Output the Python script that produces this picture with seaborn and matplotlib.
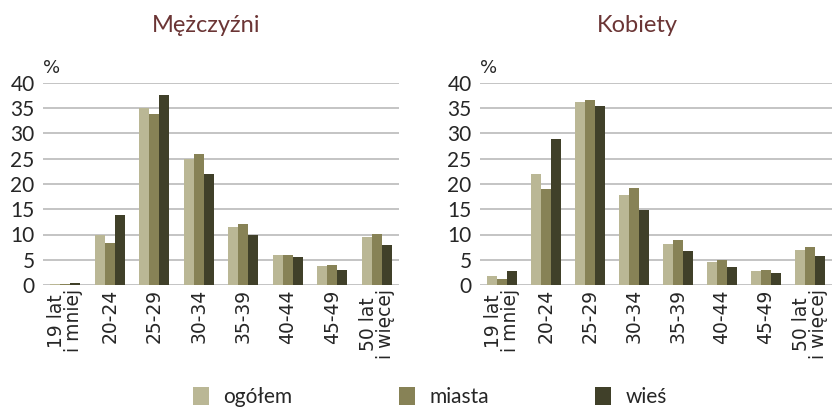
import matplotlib
matplotlib.use("Agg")
import matplotlib.pyplot as plt
import seaborn as sns
import pandas as pd
from matplotlib.patches import Patch

categories = ["19 lat\ni mniej", "20-24", "25-29", "30-34", "35-39", "40-44", "45-49", "50 lat\ni więcej"]
series = ["ogółem", "miasta", "wieś"]

men_ogolem = [0.2, 10.0, 35.0, 24.9, 11.5, 6.0, 3.8, 9.5]
men_miasta = [0.2, 8.3, 33.9, 26.0, 12.1, 6.0, 4.0, 10.1]
men_wies = [0.4, 13.9, 37.7, 22.0, 10.0, 5.6, 3.0, 7.9]

women_ogolem = [1.8, 22.0, 36.3, 17.9, 8.1, 4.6, 2.8, 6.9]
women_miasta = [1.2, 19.0, 36.7, 19.2, 8.9, 5.0, 3.0, 7.5]
women_wies = [2.8, 29.0, 35.5, 14.9, 6.7, 3.6, 2.4, 5.8]

titles = ["Mężczyźni", "Kobiety"]
yticks = [0, 5, 10, 15, 20, 25, 30, 35, 40]

colors = ["#BAB795", "#878256", "#404029"]


def make_df(a, b, c):
    rows = []
    for s, vals in zip(series, [a, b, c]):
        for cat, v in zip(categories, vals):
            rows.append({"kat": cat, "seria": s, "val": v})
    return pd.DataFrame(rows)


df_men = make_df(men_ogolem, men_miasta, men_wies)
df_women = make_df(women_ogolem, women_miasta, women_wies)

sns.set_theme(style="white")
plt.rcParams["font.family"] = ["DejaVu Sans"]

fig = plt.figure(figsize=(8.32, 4.08), dpi=100)
ax1 = fig.add_axes([43 / 832, 1 - 285 / 408, (399 - 43) / 832, (285 - 83) / 408])
ax2 = fig.add_axes([480 / 832, 1 - 285 / 408, (832 - 480) / 832, (285 - 83) / 408])

text_col = "#262626"
title_col = "#6B3535"

for ax, df in [(ax1, df_men), (ax2, df_women)]:
    sns.barplot(data=df, x="kat", y="val", hue="seria", hue_order=series,
                order=categories, palette=colors, width=0.67, saturation=1,
                ax=ax, legend=False, linewidth=0)
    ax.set_ylim(0, 40)
    ax.set_xlim(-0.5, 7.5)
    ax.set_yticks(yticks)
    ax.set_yticklabels([str(t) for t in yticks], fontsize=15, color=text_col,
                       family=["Lato", "DejaVu Sans"])
    ax.set_xticks(range(len(categories)))
    ax.set_xticklabels(categories, rotation=90, fontsize=13.5, color=text_col,
                       linespacing=0.85, va="top", ha="center")
    ax.set_xlabel("")
    ax.set_ylabel("")
    for sp in ax.spines.values():
        sp.set_visible(False)
    ax.yaxis.grid(True, color="#C4C4C4", linewidth=1.4)
    ax.set_axisbelow(True)
    ax.tick_params(axis="both", length=0, pad=3)
    ax.tick_params(axis="y", pad=6)

ax1.text(-0.5, 41.2, "%", fontsize=13, color=text_col, ha="left", va="bottom")
ax2.text(-0.5, 41.2, "%", fontsize=13, color=text_col, ha="left", va="bottom")

fig.text(206 / 832, 1 - 26 / 408, titles[0], fontsize=17, color=title_col,
         ha="center", va="center", family=["Lato", "DejaVu Sans"])
fig.text(637 / 832, 1 - 26 / 408, titles[1], fontsize=17, color=title_col,
         ha="center", va="center", family=["Lato", "DejaVu Sans"])

handles = [Patch(facecolor=c, edgecolor="none", label=s) for c, s in zip(colors, series)]
fig.legend(handles=handles, loc="center", bbox_to_anchor=(430 / 832, 1 - 397 / 408),
           ncol=3, frameon=False, handlelength=0.75, handleheight=0.95,
           handletextpad=0.7, columnspacing=5.1,
           prop={"family": ["Lato", "DejaVu Sans"], "size": 15})

fig.savefig("out.png", dpi=100)
